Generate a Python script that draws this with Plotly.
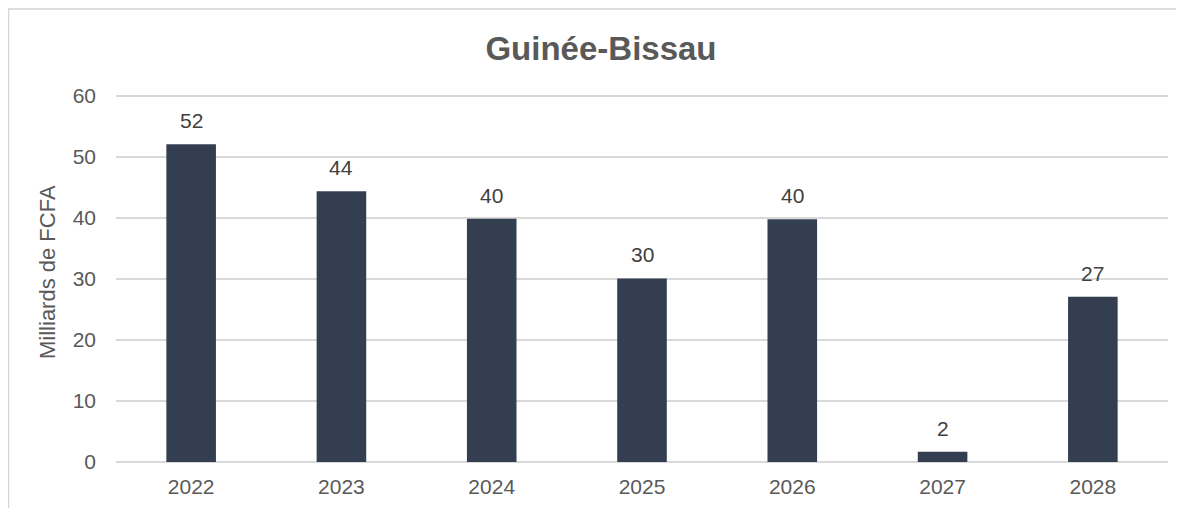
import plotly.graph_objects as go

years = ["2022", "2023", "2024", "2025", "2026", "2027", "2028"]
values = [52.1, 44.4, 39.9, 30.1, 39.8, 1.7, 27.1]
labels = ["52", "44", "40", "30", "40", "2", "27"]
y_ticks = [0, 10, 20, 30, 40, 50, 60]

title_text = "Guinée-Bissau"
y_title = "Milliards de FCFA"

FONT = "Liberation Sans, Arial, sans-serif"

# figure is drawn inside the page with an 8px body margin
W, H = 1176, 500
L, R, T, B = 108, 16, 82, 46
pw = W - L - R
ph = H - T - B


def px_x(x):
    return (x - L) / pw


def px_y(y):
    return (H - B - y) / ph


fig = go.Figure()
fig.add_trace(go.Bar(
    x=years, y=values,
    marker=dict(color="#333f50", line=dict(width=0)),
    width=0.33,
    hoverinfo="skip",
))

annotations = []
for i, (v, lab) in enumerate(zip(values, labels)):
    annotations.append(dict(
        x=i, y=v, xref="x", yref="y", text=lab, showarrow=False,
        yanchor="bottom", yshift=10,
        font=dict(family=FONT, size=21, color="#404040"),
    ))

annotations.append(dict(
    x=px_x(39), y=px_y(264), xref="paper", yref="paper", text=y_title,
    showarrow=False, textangle=-90, xanchor="center", yanchor="middle",
    font=dict(family=FONT, size=22, color="#595959"),
))

shapes = [
    dict(type="rect", xref="paper", yref="paper", layer="below",
         x0=px_x(0.5), x1=px_x(W + 20), y0=px_y(H + 20), y1=px_y(1),
         fillcolor="white", line=dict(color="#d6d6d6", width=1.5)),
]

fig.update_layout(
    width=W, height=H,
    margin=dict(l=L, r=R, t=T, b=B, pad=0, autoexpand=False),
    paper_bgcolor="#e9f2f5",
    plot_bgcolor="white",
    showlegend=False,
    title=dict(text="<b>" + title_text + "</b>", x=593 / W, y=1 - 40 / H,
               xref="container", yref="container", xanchor="center", yanchor="middle",
               font=dict(family=FONT, size=33, color="#595959")),
    font=dict(family=FONT, size=21, color="#595959"),
    bargap=0.67,
    annotations=annotations,
    shapes=shapes,
)

fig.update_xaxes(
    type="category", range=[-0.5, len(years) - 0.5], automargin=False,
    showgrid=False, showline=False, zeroline=False,
    ticks="", ticklabelstandoff=10,
    tickfont=dict(family=FONT, size=21, color="#595959"),
)
fig.update_yaxes(
    range=[0, 61], tickvals=y_ticks, automargin=False,
    showgrid=True, gridcolor="#d9d9d9", gridwidth=1.5,
    zeroline=True, zerolinecolor="#d9d9d9", zerolinewidth=1.5,
    showline=False, ticks="", ticklabelstandoff=19,
    tickfont=dict(family=FONT, size=21, color="#595959"),
)

fig.write_html("out.html")
